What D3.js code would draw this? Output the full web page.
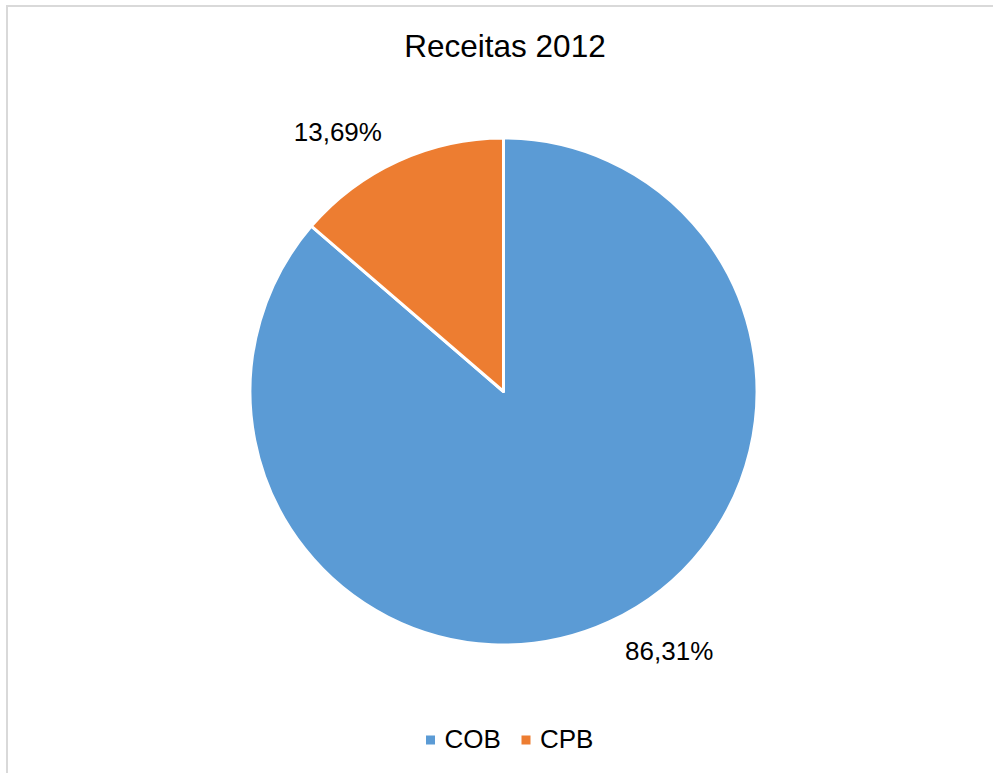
<!DOCTYPE html>
<html>
<head>
<meta charset="utf-8">
<script src="https://cdn.jsdelivr.net/npm/d3@7"></script>
<style>
  body { margin: 0; background: #fff; }
  text { font-family: "Liberation Sans", Arial, sans-serif; fill: #000; }
</style>
</head>
<body>
<svg class="piechart"></svg>
<script>
// data
const categories = ["COB", "CPB"];
const shares = [86.31, 13.69];
const labels = ["86,31%", "13,69%"];
const colors = ["#5B9BD5", "#ED7D31"];
const title = "Receitas 2012";

const width = 993, height = 773;
const cx = 503.5, cy = 391.5, radius = 253.5;

const svg = d3.select(".piechart").attr("width", width).attr("height", height);

// chart area border (only top and left visible in the crop)
svg.append("rect").attr("x", 7).attr("y", 6).attr("width", 1100).attr("height", 900)
  .attr("fill", "none").attr("stroke", "#d9d9d9").attr("stroke-width", 2);

svg.append("text").attr("x", 505).attr("y", 57).attr("text-anchor", "middle")
  .attr("font-size", 31.5).text(title);

const data = categories.map((c, i) => ({ name: c, value: shares[i], label: labels[i], color: colors[i] }));

const pie = d3.pie().value(d => d.value).sort(null);
const arc = d3.arc().innerRadius(0).outerRadius(radius);
const arcs = pie(data);

const g = svg.append("g").attr("transform", `translate(${cx}, ${cy})`);

g.selectAll(".slice").data(arcs).join("path").attr("class", "slice")
  .attr("d", arc).attr("fill", d => d.data.color)
  .attr("stroke", "#fff").attr("stroke-width", 3).attr("stroke-linejoin", "round");

// labels sit outside the pie, a bit before each slice's mid angle
const labelR = 308, shift = -7.9 * Math.PI / 180;
g.selectAll(".lbl").data(arcs).join("text").attr("class", "lbl")
  .attr("x", d => labelR * Math.sin((d.startAngle + d.endAngle) / 2 + shift))
  .attr("y", d => -labelR * Math.cos((d.startAngle + d.endAngle) / 2 + shift) + 9.3)
  .attr("text-anchor", "middle").attr("font-size", 26).text(d => d.data.label);

// legend
const legendX = [426, 521.5];
const leg = svg.selectAll(".legend").data(data).join("g").attr("class", "legend")
  .attr("transform", (d, i) => `translate(${legendX[i]}, 735.5)`);
leg.append("rect").attr("width", 9).attr("height", 9).attr("fill", d => d.color);
leg.append("text").attr("x", 18.5).attr("y", 12.5).attr("font-size", 26).text(d => d.name);
</script>
</body>
</html>
